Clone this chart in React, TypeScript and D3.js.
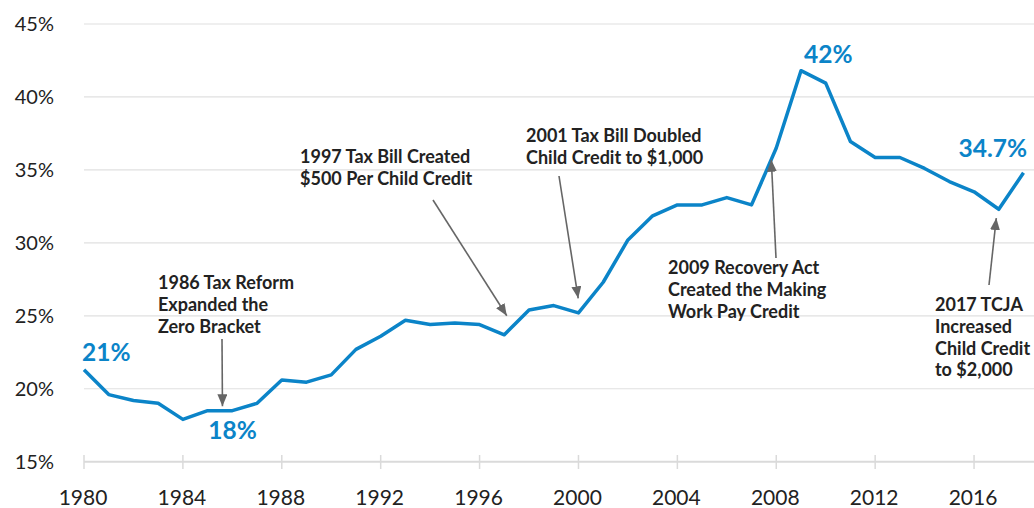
import * as d3 from "d3";

const years = d3.range(1980, 2019);
const rates = [
  21.3, 19.6, 19.2, 19.0, 17.9, 18.5, 18.5, 19.0, 20.6, 20.45,
  20.95, 22.7, 23.6, 24.7, 24.4, 24.5, 24.4, 23.7, 25.4, 25.7,
  25.2, 27.3, 30.2, 31.85, 32.6, 32.6, 33.1, 32.6, 36.5, 41.8,
  40.95, 36.95, 35.85, 35.85, 35.1, 34.2, 33.5, 32.3, 34.8,
];
const yTicks = [15, 20, 25, 30, 35, 40, 45];
const xTicks = [1980, 1984, 1988, 1992, 1996, 2000, 2004, 2008, 2012, 2016];

// value labels: [year, value, text, dx, dy]
const valueLabels: [number, number, string, number, number][] = [
  [1980, 21.3, "21%", -2, -9],
  [1986, 18.5, "18%", -24, 28],
  [2009, 41.8, "42%", 3, -8],
  [2018, 34.8, "34.7%", -65, -16],
];

// annotations: lines, text x/y, arrow tail, arrow tip (year,value)
const notes = [
  { lines: ["1986 Tax Reform", "Expanded the", "Zero Bracket"], x: 158, y: 289, from: [222, 339], to: [1985.6, 18.8] },
  { lines: ["1997 Tax Bill Created", "$500 Per Child Credit"], x: 300, y: 163, from: [433, 200], to: [1997.1, 25.0] },
  { lines: ["2001 Tax Bill Doubled", "Child Credit to $1,000"], x: 526, y: 142, from: [559, 176], to: [1999.99, 26.2] },
  { lines: ["2009 Recovery Act", "Created the Making", "Work Pay Credit"], x: 668, y: 274, from: [776, 258], to: [2007.8, 35.7] },
  { lines: ["2017 TCJA", "Increased", "Child Credit", "to $2,000"], x: 935, y: 311, from: [989, 285], to: [2016.9, 31.7] },
];

const blue = "#0b84c8";
const font = "Lato, 'Open Sans', sans-serif";

export default function App() {
  const x = d3.scaleLinear().domain([1980, 2018]).range([84, 1023.5]);
  const y = d3.scaleLinear().domain([15, 45]).range([461.7, 24]);
  const line = d3
    .line<number>()
    .x((d, i) => x(years[i]))
    .y((d) => y(d));

  return (
    <svg
      width={1034}
      height={508}
      style={{ position: "absolute", left: 0, top: 0, background: "#fff" }}
      fontFamily={font}
    >
      <defs>
        <marker
          id="arr"
          markerUnits="userSpaceOnUse"
          viewBox="0 0 12 10"
          refX={12}
          refY={5}
          markerWidth={12}
          markerHeight={10}
          orient="auto"
        >
          <path d="M0,0 L12,5 L0,10 Z" fill="#666" />
        </marker>
      </defs>
      {yTicks.slice(1).map((t) => (
        <line key={t} x1={84} x2={1034} y1={y(t)} y2={y(t)} stroke="#e0e0e0" strokeWidth={1.2} />
      ))}
      <line x1={84} x2={1034} y1={y(15)} y2={y(15)} stroke="#dadada" strokeWidth={2} />
      {xTicks.map((t) => (
        <line key={t} x1={x(t)} x2={x(t)} y1={455} y2={469} stroke="#dadada" strokeWidth={1.5} />
      ))}
      {yTicks.map((t) => (
        <text key={t} x={54} y={y(t) + 7} textAnchor="end" fontSize={20} fill="#222">
          {t}%
        </text>
      ))}
      {xTicks.map((t) => (
        <text key={t} x={x(t) - 1} y={505} textAnchor="middle" fontSize={21} fill="#222">
          {t}
        </text>
      ))}
      <path d={line(rates) || ""} fill="none" stroke={blue} strokeWidth={3.5} strokeLinejoin="round" />
      {valueLabels.map(([yr, v, s, dx, dy]) => (
        <text key={s} x={x(yr) + dx} y={y(v) + dy} fontSize={24.5} fontWeight={700} fill={blue}>
          {s}
        </text>
      ))}
      {notes.map((n, i) => (
        <g key={i}>
          <text x={n.x} y={n.y} fontSize={18} fontWeight={700} fill="#222">
            {n.lines.map((l, j) => (
              <tspan key={j} x={n.x} dy={j === 0 ? 0 : 21.8}>
                {l}
              </tspan>
            ))}
          </text>
          <line
            x1={n.from[0]}
            y1={n.from[1]}
            x2={x(n.to[0])}
            y2={y(n.to[1])}
            stroke="#666"
            strokeWidth={1.6}
            markerEnd="url(#arr)"
          />
        </g>
      ))}
    </svg>
  );
}
